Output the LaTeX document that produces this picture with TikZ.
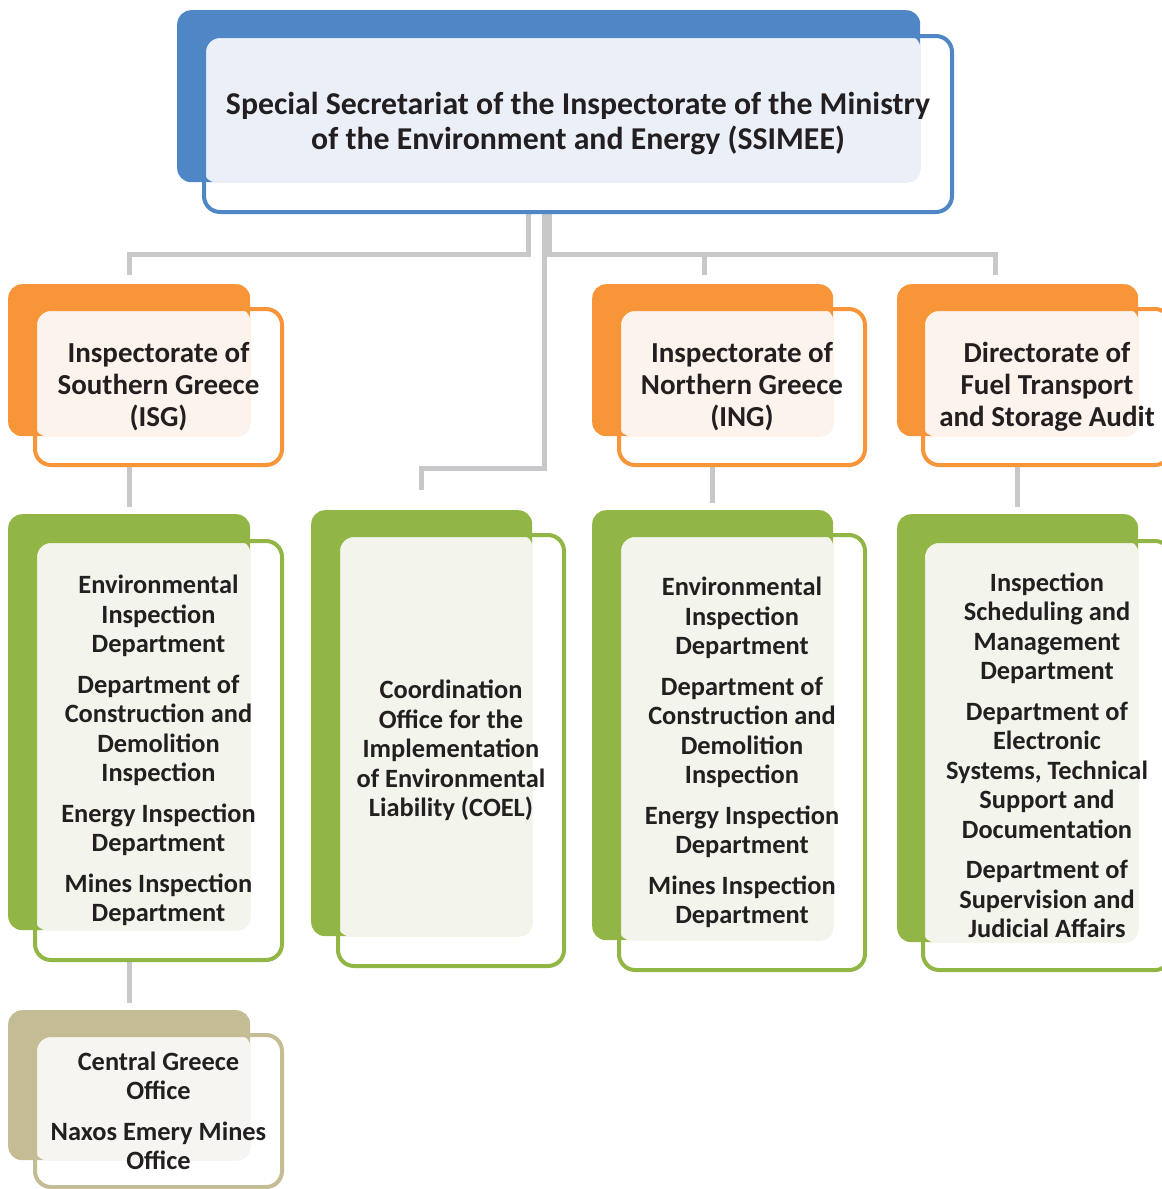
\documentclass[tikz,border=0pt]{standalone}
\usepackage{fontspec}
\setmainfont{Carlito}
\usepackage{tikz}
\usetikzlibrary{backgrounds}
\definecolor{secblue}{HTML}{4F86C6}
\definecolor{seclight}{HTML}{EBF0F8}
\definecolor{inspOrange}{HTML}{F79538}
\definecolor{inspLight}{HTML}{FCF3EC}
\definecolor{deptGreen}{HTML}{92B645}
\definecolor{deptLight}{HTML}{F3F4EC}
\definecolor{officeTan}{HTML}{C4BC94}
\definecolor{officeLight}{HTML}{F6F5F1}
\definecolor{linkgray}{HTML}{C8C8CA}
\definecolor{inktext}{HTML}{231F20}
\tikzset{
  backbox/.style={
    rectangle, rounded corners=14pt, inner sep=0pt, anchor=north west
  },
  framebox/.style={
    rectangle, rounded corners=16pt, line width=4pt, inner sep=0pt,
    anchor=north west, align=center, text=inktext
  },
  toptext/.style={font=\fontsize{31.8}{35}\selectfont\bfseries},
  headtext/.style={font=\fontsize{29}{32}\selectfont\bfseries},
  depttext/.style={font=\fontsize{26.4}{29.5}\selectfont\bfseries},
  link/.style={draw=linkgray, line width=5pt, shorten >=7pt}
}

\begin{document}
\begin{tikzpicture}[x=1pt, y=-1pt]
\useasboundingbox (0,0) rectangle (1162,1189);

% secretariat
\node[backbox, fill=secblue, minimum width=743pt, minimum height=172pt] (top) at (177,10) {};
\fill[seclight, rounded corners=12pt] (204,36) rectangle (top.south east);
\node[framebox, draw=secblue, toptext, minimum width=748pt, minimum height=176pt] (top-f) at (202,34)
  {Special Secretariat of the Inspectorate of the Ministry\\of the Environment and Energy (SSIMEE)};

% inspectorates
\node[backbox, fill=inspOrange, minimum width=242pt, minimum height=152pt] (isg) at (8,284) {};
\fill[inspLight, rounded corners=12pt] (35,309) rectangle (isg.south east);
\node[framebox, draw=inspOrange, headtext, minimum width=247pt, minimum height=156pt] (isg-f) at (33,307)
  {Inspectorate of\\Southern Greece\\(ISG)};

\node[backbox, fill=inspOrange, minimum width=241pt, minimum height=152pt] (ing) at (592,284) {};
\fill[inspLight, rounded corners=12pt] (619,309) rectangle (ing.south east);
\node[framebox, draw=inspOrange, headtext, minimum width=246pt, minimum height=156pt] (ing-f) at (617,307)
  {Inspectorate of\\Northern Greece\\(ING)};

\node[backbox, fill=inspOrange, minimum width=241pt, minimum height=152pt] (dir) at (897,284) {};
\fill[inspLight, rounded corners=12pt] (923,309) rectangle (dir.south east);
\node[framebox, draw=inspOrange, headtext, minimum width=248pt, minimum height=156pt] (dir-f) at (921,307)
  {Directorate of\\Fuel Transport\\and Storage Audit};

% departments
\node[backbox, fill=deptGreen, minimum width=242pt, minimum height=416pt] (isg-dept) at (8,514) {};
\fill[deptLight, rounded corners=12pt] (35,541) rectangle (isg-dept.south east);
\node[framebox, draw=deptGreen, depttext, minimum width=247pt, minimum height=419pt] (isg-dept-f) at (33,539)
  {Environmental\\Inspection\\Department\\[11pt]
   Department of\\Construction and\\Demolition\\Inspection\\[11pt]
   Energy Inspection\\Department\\[11pt]
   Mines Inspection\\Department};

\node[backbox, fill=deptGreen, minimum width=221pt, minimum height=426pt] (coel) at (311,510) {};
\fill[deptLight, rounded corners=12pt] (338,535) rectangle (coel.south east);
\node[framebox, draw=deptGreen, depttext, minimum width=226pt, minimum height=431pt] (coel-f) at (336,533)
  {Coordination\\Office for the\\Implementation\\of Environmental\\Liability (COEL)};

\node[backbox, fill=deptGreen, minimum width=241pt, minimum height=430pt] (ing-dept) at (592,510) {};
\fill[deptLight, rounded corners=12pt] (619,535) rectangle (ing-dept.south east);
\node[framebox, draw=deptGreen, depttext, minimum width=246pt, minimum height=435pt] (ing-dept-f) at (617,533)
  {Environmental\\Inspection\\Department\\[11pt]
   Department of\\Construction and\\Demolition\\Inspection\\[11pt]
   Energy Inspection\\Department\\[11pt]
   Mines Inspection\\Department};

\node[backbox, fill=deptGreen, minimum width=241pt, minimum height=428pt] (dir-dept) at (897,514) {};
\fill[deptLight, rounded corners=12pt] (923,541) rectangle (dir-dept.south east);
\node[framebox, draw=deptGreen, depttext, minimum width=248pt, minimum height=429pt] (dir-dept-f) at (921,539)
  {Inspection\\Scheduling and\\Management\\Department\\[11pt]
   Department of\\Electronic\\Systems, Technical\\Support and\\Documentation\\[11pt]
   Department of\\Supervision and\\Judicial Affairs};

% regional offices
\node[backbox, fill=officeTan, minimum width=242pt, minimum height=150pt] (offices) at (8,1010) {};
\fill[officeLight, rounded corners=12pt] (35,1035) rectangle (offices.south east);
\node[framebox, draw=officeTan, depttext, minimum width=247pt, minimum height=152pt] (offices-f) at (33,1033)
  {Central Greece\\Office\\[11pt]Naxos Emery Mines\\Office};

% connectors
\coordinate (split-l) at (528,254);
\coordinate (split-r) at (549,254);
\coordinate (split-c) at (544,468);
\begin{scope}[on background layer]
  \draw[link, shorten >=9pt] (split-l |- top-f.south) -- (split-l) -| (isg.north);
  \draw[link, shorten >=20pt] (split-c |- top-f.south) -- (split-c) -| (coel.north);
  \draw[link, shorten >=9pt] (split-r |- top-f.south) -- (split-r) -| ([xshift=-8pt]ing.north);
  \draw[link, shorten >=9pt] (split-r) -| ([xshift=-22pt]dir.north);
  \draw[link] (isg.south |- isg-f.south) -- (isg-dept.north);
  \draw[link] (ing.south |- ing-f.south) -- (ing-dept.north);
  \draw[link] (dir.south |- dir-f.south) -- (dir-dept.north);
  \draw[link] (isg-dept.south |- isg-dept-f.south) -- (offices.north);
\end{scope}
\end{tikzpicture}
\end{document}
